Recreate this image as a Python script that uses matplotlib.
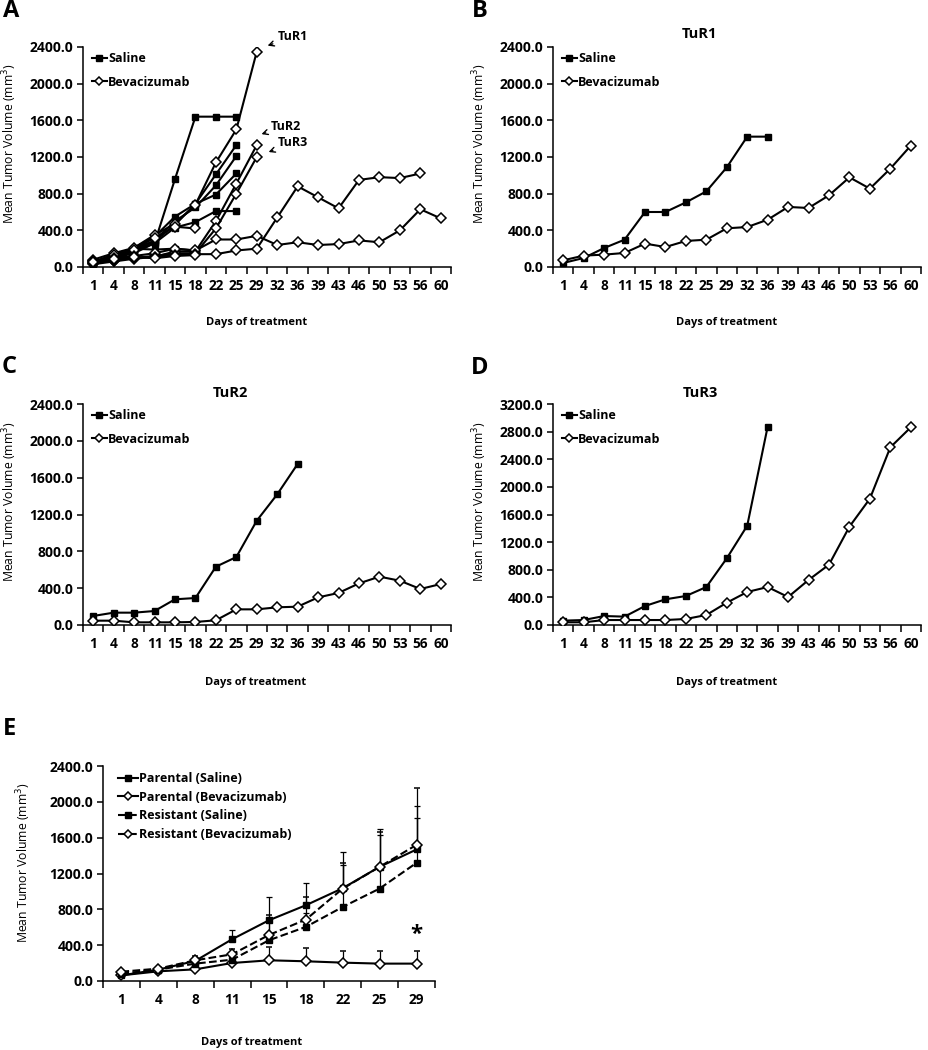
import matplotlib
matplotlib.use("Agg")
import matplotlib.pyplot as plt
from matplotlib.lines import Line2D
import numpy as np

plt.rcParams['font.family'] = ['Open Sans', 'DejaVu Sans']

days = [1, 4, 8, 11, 15, 18, 22, 25, 29, 32, 36, 39, 43, 46, 50, 53, 56, 60]
days_e = [1, 4, 8, 11, 15, 18, 22, 25, 29]

# panel A: individual curves, saline (squares) and bevacizumab (diamonds)
a_saline = [
    [40, 100, 150, 260, 960, 1640, 1640, 1640],
    [50, 130, 210, 330, 550, 690, 1010, 1330],
    [40, 120, 190, 290, 500, 650, 890, 1210],
    [35, 110, 180, 280, 460, 690, 790, 1020],
    [30, 100, 170, 260, 430, 490, 610, 610],
    [45, 140, 200, 190, 200, 180],
]
a_bev = [
    [80, 150, 210, 350, 470, 680, 1140, 1500, 2350],
    [60, 130, 190, 320, 440, 420],
    [30, 60, 90, 110, 170, 170, 500, 910, 1330],
    [40, 70, 100, 120, 150, 150, 420, 800, 1200],
    [60, 100, 120, 150, 200, 180, 300, 300, 340, 240, 270, 240, 250, 290, 270, 400, 630, 530],
    [40, 80, 100, 110, 130, 140, 140, 180, 200, 540, 880, 760, 640, 950, 980, 970, 1020],
    [50, 90, 110, 95, 120, 130],
]

# panel B: TuR1
b_saline = [44, 98, 207, 298, 600, 600, 705, 825, 1087, 1422, 1422]
b_bev = [73, 124, 135, 153, 255, 218, 284, 298, 422, 436, 516, 655, 644, 782, 978, 855, 1073, 1324]

# panel C: TuR2
c_saline = [98, 134, 134, 152, 279, 293, 633, 738, 1133, 1419, 1749]
c_bev = [47, 47, 29, 29, 29, 33, 51, 170, 170, 192, 199, 300, 348, 452, 525, 481, 391, 445]

# panel D: TuR3
d_saline = [63, 72, 130, 121, 275, 372, 420, 550, 965, 1438, 2872]
d_bev = [39, 39, 72, 72, 72, 72, 87, 145, 323, 478, 550, 405, 652, 874, 1424, 1829, 2573, 2862]

# panel E: parental vs resistant, upper error bars
e_labels = ['Parental (Saline)', 'Parental (Bevacizumab)',
            'Resistant (Saline)', 'Resistant (Bevacizumab)']
par_sal = [63, 127, 224, 466, 678, 846, 1036, 1275, 1468]
par_sal_err = [15, 25, 40, 100, 261, 250, 400, 425, 485]
par_bev = [63, 108, 130, 201, 231, 220, 205, 194, 194]
par_bev_err = [15, 20, 30, 40, 145, 150, 135, 140, 145]
res_sal = [82, 127, 194, 238, 455, 604, 827, 1032, 1319]
res_sal_err = [15, 20, 35, 40, 200, 150, 466, 596, 495]
res_bev = [104, 138, 231, 298, 514, 686, 1032, 1275, 1520]
res_bev_err = [10, 15, 52, 63, 220, 253, 280, 383, 630]

W, H = 929, 1050
fig = plt.figure(figsize=(W / 100, H / 100), dpi=100)


def px_axes(l, t, r, b):
    return fig.add_axes([l / W, 1 - b / H, (r - l) / W, (b - t) / H])


def style(ax, labels, ymax, ystep):
    n = len(labels)
    ax.set_xlim(-0.5, n - 0.5)
    ax.set_ylim(0, ymax)
    for s in ['top', 'right']:
        ax.spines[s].set_visible(False)
    for s in ['left', 'bottom']:
        ax.spines[s].set_linewidth(1.1)
    ax.set_xticks(range(n))
    ax.set_xticklabels([str(d) for d in labels])
    ax.set_xticks(np.arange(n + 1) - 0.5, minor=True)
    ax.tick_params(axis='x', which='major', length=0, pad=9, labelsize=9.8)
    ax.tick_params(axis='x', which='minor', length=5, width=1.1, direction='out')
    yt = np.arange(0, ymax + 1, ystep)
    ax.set_yticks(yt)
    ax.set_yticklabels(['%.1f' % v for v in yt])
    ax.tick_params(axis='y', length=4, width=1.1, pad=3, labelsize=10)
    for lab in ax.get_xticklabels() + ax.get_yticklabels():
        lab.set_fontweight('bold')


sq = dict(color='black', marker='s', markersize=5, lw=1.5,
          markerfacecolor='black', markeredgecolor='black')
dm = dict(color='black', marker='D', markersize=5.2, lw=1.5,
          markerfacecolor='white', markeredgecolor='black', markeredgewidth=1.1)


def add_legend(ax):
    h = [Line2D([], [], **dict(sq, markersize=4.5)),
         Line2D([], [], **dict(dm, markersize=4))]
    ax.legend(h, ['Saline', 'Bevacizumab'], loc='upper left',
              bbox_to_anchor=(0.01, 1.0), frameon=False, handlelength=1.2,
              handletextpad=0.1, labelspacing=0.85, borderaxespad=0,
              prop=dict(size=9, weight='bold'))


def plot_pair(ax, sal, bev):
    ax.plot(range(len(sal)), sal, **sq, zorder=3)
    ax.plot(range(len(bev)), bev, **dm, zorder=3)


# A
axA = px_axes(83, 47, 451, 267)
for s in a_saline:
    axA.plot(range(len(s)), s, **sq, zorder=3)
for s in a_bev:
    axA.plot(range(len(s)), s, **dm, zorder=3)
style(axA, days, 2400, 400)
add_legend(axA)
arrow = dict(arrowstyle='->', color='black', lw=1.0)
for name, txt, tip in [('TuR1', (9.05, 2510), (8.4, 2405)),
                       ('TuR2', (8.7, 1538), (8.1, 1440)),
                       ('TuR3', (9.05, 1353), (8.45, 1244))]:
    axA.annotate(name, xy=tip, xytext=txt, ha='left', va='center',
                 fontsize=9, fontweight='bold', arrowprops=arrow,
                 annotation_clip=False)

# B
axB = px_axes(553, 47, 921, 267)
plot_pair(axB, b_saline, b_bev)
style(axB, days, 2400, 400)
add_legend(axB)

# C
axC = px_axes(83, 404, 451, 625)
plot_pair(axC, c_saline, c_bev)
style(axC, days, 2400, 400)
add_legend(axC)

# D
axD = px_axes(553, 404, 921, 625)
plot_pair(axD, d_saline, d_bev)
style(axD, days, 3200, 400)
add_legend(axD)

# E
axE = px_axes(103, 766, 435, 981)
xe = np.arange(len(days_e))
series = [(par_sal, par_sal_err, sq, '-'), (par_bev, par_bev_err, dm, '-'),
          (res_sal, res_sal_err, sq, '--'), (res_bev, res_bev_err, dm, '--')]
handles = []
for vals, err, st, ls in series:
    kw = dict(st)
    axE.errorbar(xe, vals, yerr=[np.zeros(len(err)), err], ls=ls,
                 ecolor='black', elinewidth=0.9, capsize=2, capthick=0.9,
                 zorder=3, **kw)
    kw['markersize'] = 4
    handles.append(Line2D([], [], ls=ls, **kw))
style(axE, days_e, 2400, 400)
axE.legend(handles, e_labels, loc='upper left', bbox_to_anchor=(0.03, 0.995),
           frameon=False, handlelength=1.6, handletextpad=0.1,
           labelspacing=0.45, borderaxespad=0, prop=dict(size=9, weight='bold'))
axE.text(8, 520, '*', ha='center', va='center', fontsize=16, fontweight='bold')

# titles, axis labels, panel letters
for x, y, t in [(699, 34, 'TuR1'), (230, 393, 'TuR2'), (700, 393, 'TuR3')]:
    fig.text(x / W, 1 - y / H, t, ha='center', va='center', fontsize=10.5,
             fontweight='bold')
for x, y in [(257, 322), (727, 322), (256, 682), (727, 682), (252, 1043)]:
    fig.text(x / W, 1 - y / H, 'Days of treatment', ha='center', va='center',
             fontsize=8, fontweight='bold')
for x, y in [(10, 144), (480, 144), (10, 502), (480, 502), (24, 863)]:
    fig.text(x / W, 1 - y / H, 'Mean Tumor Volume (mm$^3$)', ha='center',
             va='center', rotation=90, fontsize=8.8)
for x, y, t in [(3, 11, 'A'), (472, 11, 'B'), (2, 367, 'C'), (471, 368, 'D'),
                (3, 729, 'E')]:
    fig.text(x / W, 1 - y / H, t, ha='left', va='center', fontsize=17,
             fontweight='bold')

fig.savefig('out.png', dpi=100)
